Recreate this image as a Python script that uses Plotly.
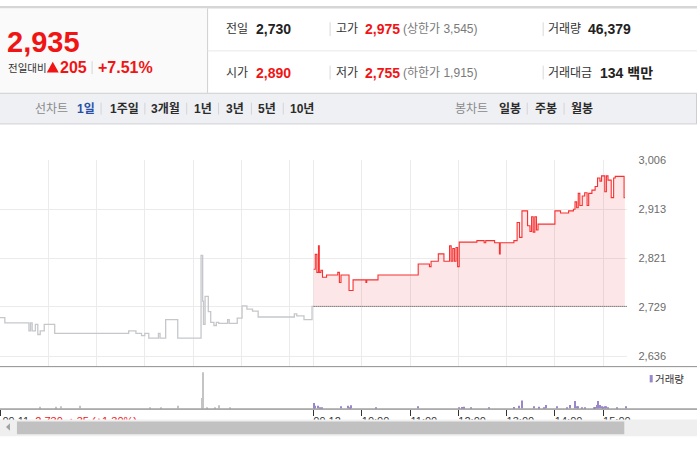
import plotly.graph_objects as go

# ---------------- data ----------------
prev_close = 2730
current_price = 2935
change_abs = 205
change_pct = 7.51
open_price = 2890
high_price = 2975
low_price = 2755
upper_limit = 3545
lower_limit = 1915
volume_total = 46379
value_total = 134  # 백만

prev_times = ["09:00", "09:06", "09:36", "09:38", "09:40", "09:44", "09:47", "09:50", "09:55", "10:08",
              "11:40", "11:49", "11:56", "12:00", "12:05", "12:17", "12:19", "12:26", "12:41", "13:10",
              "13:12", "13:13", "13:15", "13:19", "13:22", "13:26", "13:29", "13:32", "13:43", "13:45",
              "13:55", "14:01", "14:07", "14:14", "14:21", "15:06", "15:09", "15:18", "15:28", "15:30"]
prev_prices = [2709, 2699, 2684, 2699, 2684, 2696, 2677, 2684, 2696, 2679,
               2684, 2679, 2675, 2679, 2670, 2679, 2670, 2705, 2670, 2826,
               2740, 2696, 2749, 2720, 2700, 2694, 2700, 2698, 2705, 2698,
               2708, 2731, 2725, 2721, 2710, 2716, 2712, 2705, 2730, 2730]

today_times = ["09:00", "09:02", "09:04", "09:06", "09:07", "09:09", "09:11", "09:16", "09:30", "09:32",
               "09:34", "09:44", "09:49", "10:05", "10:06", "10:20", "11:10", "11:24", "11:26", "11:35",
               "11:42", "11:49", "11:51", "11:53", "11:55", "11:57", "11:59", "12:01", "12:23", "12:32",
               "12:34", "12:45", "12:51", "12:52", "13:09", "13:13", "13:16", "13:19", "13:26", "13:29",
               "13:31", "13:33", "13:35", "13:37", "13:39", "14:00", "14:07", "14:17", "14:23", "14:25",
               "14:27", "14:29", "14:31", "14:34", "14:37", "14:40", "14:42", "14:46", "14:50", "14:53",
               "14:56", "14:58", "15:02", "15:04", "15:06", "15:10", "15:13", "15:15", "15:26", "15:27"]
today_prices = [2800, 2828, 2794, 2844, 2794, 2798, 2785, 2789, 2794, 2775,
                2789, 2760, 2780, 2775, 2780, 2789, 2810, 2805, 2815, 2829,
                2815, 2844, 2815, 2839, 2815, 2841, 2805, 2851, 2854, 2850,
                2854, 2850, 2829, 2850, 2854, 2888, 2860, 2910, 2882, 2871,
                2899, 2870, 2899, 2874, 2885, 2910, 2906, 2910, 2913, 2927,
                2916, 2943, 2920, 2938, 2944, 2920, 2943, 2949, 2956, 2972,
                2966, 2976, 2946, 2976, 2968, 2935, 2972, 2975, 2935, 2935]

prev_vol_times = ["09:50", "10:10", "10:16", "10:40", "12:06", "12:20", "12:41", "13:11", "13:12",
                  "13:17", "13:27", "13:32", "13:46"]
prev_vol = [1400, 1400, 1800, 2200, 1000, 1000, 2200, 8600, 29400, 1000, 1000, 2600, 1000]

today_vol_times = ["09:00", "09:01", "09:02", "09:05", "09:08", "09:11", "09:34", "09:43", "09:45", "09:47",
                   "10:17", "11:10", "12:01", "12:04", "12:07", "12:16", "12:38", "13:09", "13:15", "13:19",
                   "13:34", "13:40", "13:46", "13:49", "14:02", "14:15", "14:19", "14:25", "14:27", "14:29",
                   "14:34", "14:38", "14:48", "14:50", "14:52", "14:54", "14:56", "14:58", "15:00", "15:02",
                   "15:04", "15:06", "15:17", "15:28"]
today_vol = [4000, 4600, 2200, 2200, 1000, 1000, 1800, 2200, 1000, 2600,
             1000, 1800, 1000, 1200, 1400, 1000, 1000, 1200, 2200, 6600,
             1800, 1400, 1000, 2800, 1800, 1000, 2800, 6200, 1800, 1800,
             1000, 1000, 1000, 1200, 2800, 6200, 2800, 1800, 1400, 1800,
             1800, 1000, 1000, 1800]

y_ticks = [2636, 2729, 2821, 2913, 3006]
hour_labels = ["10:00", "11:00", "12:00", "13:00", "14:00", "15:00"]
prev_day_label = "09.11"
today_label = "09.12"
prev_day_info = "2,730 ▲35 (+1.30%)"

# ---------------- helpers ----------------
W, H = 700, 450
SESSION = 390
X_RANGE = [0, 2 * SESSION]
PLOT_R = 630
PX_PER_MIN = PLOT_R / (2 * SESSION)
FONT = "Liberation Sans, Arial, Noto Sans CJK KR, sans-serif"
RED = "#f01414"


def to_min(t):
    h, m = t.split(":")
    return (int(h) - 9) * 60 + int(m)


prev_x = [to_min(t) for t in prev_times]
today_x = [SESSION + to_min(t) for t in today_times]
prev_vx = [to_min(t) for t in prev_vol_times]
today_vx = [SESSION + to_min(t) for t in today_vol_times]

shapes = []
annotations = []


def rect(x0, y0, x1, y1, fill, layer="below"):
    shapes.append(dict(type="rect", xref="paper", yref="paper", x0=x0 / W, x1=x1 / W,
                       y0=1 - y1 / H, y1=1 - y0 / H, fillcolor=fill, line=dict(width=0), layer=layer))


def seg(x0, y0, x1, y1, color, width=1, layer="below"):
    shapes.append(dict(type="line", xref="paper", yref="paper", x0=x0 / W, x1=x1 / W,
                       y0=1 - y0 / H, y1=1 - y1 / H, line=dict(color=color, width=width), layer=layer))


def poly(points, fill, layer="below"):
    path = "M " + " L ".join(f"{x / W},{1 - y / H}" for x, y in points) + " Z"
    shapes.append(dict(type="path", xref="paper", yref="paper", path=path, fillcolor=fill,
                       line=dict(width=0), layer=layer))


def ann(x, y, text, size, color, bold=False, xanchor="left"):
    if bold:
        text = f"<b>{text}</b>"
    annotations.append(dict(xref="paper", yref="paper", x=x / W, y=1 - y / H, text=text,
                            showarrow=False, xanchor=xanchor, yanchor="middle",
                            font=dict(size=size, color=color, family=FONT)))


# ---------------- traces ----------------
fig = go.Figure()

fig.add_trace(go.Scatter(x=prev_x, y=prev_prices, mode="lines",
                         line=dict(color="#c6c7cb", width=1.3, shape="hv"),
                         xaxis="x", yaxis="y", hoverinfo="skip"))
fig.add_trace(go.Scatter(x=today_x, y=[prev_close] * len(today_x), mode="lines",
                         line=dict(color="rgba(0,0,0,0)", width=0, shape="hv"),
                         xaxis="x", yaxis="y", hoverinfo="skip"))
fig.add_trace(go.Scatter(x=today_x, y=today_prices, mode="lines",
                         line=dict(color="rgba(0,0,0,0)", width=0, shape="hv"),
                         fill="tonexty", fillcolor="rgba(240,60,70,0.13)",
                         xaxis="x", yaxis="y", hoverinfo="skip"))
fig.add_trace(go.Scatter(x=[SESSION, 2 * SESSION], y=[prev_close, prev_close], mode="lines",
                         line=dict(color="#444444", width=1, dash="1px,1px"),
                         xaxis="x", yaxis="y", hoverinfo="skip"))
fig.add_trace(go.Scatter(x=today_x, y=today_prices, mode="lines",
                         line=dict(color="#f83030", width=1.1, shape="hv"),
                         xaxis="x", yaxis="y", hoverinfo="skip"))

fig.add_trace(go.Bar(x=prev_vx, y=prev_vol, width=1.3, marker=dict(color="#c4c4c4", line=dict(width=0)),
                     xaxis="x2", yaxis="y2", hoverinfo="skip"))
fig.add_trace(go.Bar(x=today_vx, y=today_vol, width=1.3, marker=dict(color="#9a86c8", line=dict(width=0)),
                     xaxis="x2", yaxis="y2", hoverinfo="skip"))
fig.add_trace(go.Scatter(x=[0], y=[0], mode="markers", marker=dict(opacity=0),
                         xaxis="x3", yaxis="y2", hoverinfo="skip"))

# ---------------- axes ----------------
grid_x = [h * 60 for h in range(0, 7)] + [SESSION + h * 60 for h in range(0, 7)]
vol_ticks = [0, SESSION] + [SESSION + h * 60 for h in range(1, 7)]

# label centres (labels are left-aligned at their tick in the reference)
lab_w_time = 27.5
lab_w_left = 140
lab_w_day = 27
label_vals = [lab_w_left / 2 / PX_PER_MIN, SESSION + lab_w_day / 2 / PX_PER_MIN] + \
             [SESSION + h * 60 + lab_w_time / 2 / PX_PER_MIN for h in range(1, 7)]
label_text = [f"{prev_day_label}  <span style='color:#f01414'>{prev_day_info}</span>", today_label] + hour_labels

y_top_px, y_bot_px, y_dom_bot_px = 156, 355, 365
per_px = (y_ticks[-1] - y_ticks[0]) / (y_bot_px - y_top_px)
y_range = [y_ticks[0] - (y_dom_bot_px - y_bot_px) * per_px, y_ticks[-1]]
vol_range = [0, 34400]

fig.update_layout(
    width=W, height=H, margin=dict(l=0, r=0, t=0, b=0),
    paper_bgcolor="white", plot_bgcolor="white", showlegend=False,
    barmode="overlay", hovermode=False,
    font=dict(family=FONT),
    xaxis=dict(domain=[0, PLOT_R / W], range=X_RANGE, anchor="y", tickvals=grid_x,
               showticklabels=False, ticks="", showgrid=True, gridcolor="#ebebeb", gridwidth=1,
               zeroline=False, showline=False, fixedrange=True),
    yaxis=dict(domain=[1 - y_dom_bot_px / H, 1 - y_top_px / H], range=y_range, anchor="x", side="right",
               tickvals=y_ticks, ticktext=[f"{v:,}" for v in y_ticks], ticks="outside", ticklen=8,
               tickcolor="rgba(0,0,0,0)", tickfont=dict(size=11, color="#6b6b6b", family=FONT),
               showgrid=True, gridcolor="#ebebeb", gridwidth=1, zeroline=False, showline=False,
               fixedrange=True),
    xaxis2=dict(domain=[0, PLOT_R / W], range=X_RANGE, anchor="y2", tickvals=vol_ticks,
                showticklabels=False, ticks="outside", ticklen=6, tickwidth=1, tickcolor="#333333",
                showgrid=False, zeroline=False, showline=False, fixedrange=True),
    yaxis2=dict(domain=[1 - 408 / H, 1 - 365 / H], range=vol_range, anchor="x2", visible=False,
                fixedrange=True),
    xaxis3=dict(overlaying="x2", anchor="y2", range=X_RANGE, tickvals=label_vals, ticktext=label_text,
                ticks="outside", ticklen=2, tickcolor="rgba(0,0,0,0)", ticklabeloverflow="allow",
                tickangle=0, tickfont=dict(size=11, color="#333333", family=FONT),
                showgrid=False, zeroline=False, showline=False, fixedrange=True),
)

# ---------------- header ----------------
rect(0, 0, W, 2.5, "#d6d6d6")
rect(0, 2.5, 208, 88, "#fafafa")
seg(208.5, 2.5, 208.5, 88, "#cfcfcf")
seg(208.5, 45.5, W, 45.5, "#e8e8e8")
seg(0, 88.5, W, 88.5, "#c4c4c4")

ann(5, 36, f"{current_price:,}", 29, RED, bold=True)
ann(6, 62.5, "전일대비", 10.5, "#333333")
poly([(47, 67.5), (53, 56.5), (59, 67.5)], RED)
ann(58.5, 62, f"{change_abs}", 16, RED, bold=True)
seg(92.5, 56, 92.5, 69, "#d5d5d5")
ann(96, 62, f"+{change_pct:.2f}%", 16, RED, bold=True)

for ry, items in [(23.5, [("전일", f"{prev_close:,}", "#222222", None),
                          ("고가", f"{high_price:,}", RED, f"(상한가 {upper_limit:,})"),
                          ("거래량", f"{volume_total:,}", "#222222", None)]),
                  (67.5, [("시가", f"{open_price:,}", RED, None),
                          ("저가", f"{low_price:,}", RED, f"(하한가 {lower_limit:,})"),
                          ("거래대금", f"{value_total} 백만", "#222222", None)])]:
    lx = [225, 335, 548]
    vx = [255, 365, 589 if ry < 40 else 601]
    for (lab, val, col, extra), x0, x1 in zip(items, lx, vx):
        ann(x0, ry, lab, 12, "#333333")
        ann(x1, ry, val, 14, col, bold=True)
        if extra:
            ann(403, ry, extra, 12, "#7a7a7a")
    seg(331.5, ry - 7, 331.5, ry + 7, "#d8d8d8")
    seg(545.5, ry - 7, 545.5, ry + 7, "#d8d8d8")

# ---------------- nav bar ----------------
rect(0, 89, W, 119, "#eff0f4")
seg(0, 119.5, W, 119.5, "#cdcdd2")
seg(699.5, 89, 699.5, 119.5, "#cdcdd2")
NAV_Y = 104
ann(33, NAV_Y, "선차트", 12, "#8a8a8a")
ann(75, NAV_Y, "1일", 12, "#2a4fa6", bold=True)
for txt, x in [("1주일", 108), ("3개월", 150), ("1년", 193), ("3년", 225), ("5년", 257), ("10년", 289)]:
    ann(x, NAV_Y, txt, 12, "#2b2b2b", bold=True)
for x in [101.5, 145.5, 187.5, 219.5, 252.5, 284.5]:
    seg(x, NAV_Y - 6, x, NAV_Y + 6, "#d3d3d8")
ann(455, NAV_Y, "봉차트", 12, "#8a8a8a")
for txt, x in [("일봉", 499), ("주봉", 535), ("월봉", 571)]:
    ann(x, NAV_Y, txt, 12, "#2b2b2b", bold=True)
for x in [529.5, 566.5]:
    seg(x, NAV_Y - 6, x, NAV_Y + 6, "#d3d3d8")

# ---------------- volume panel frame & legend ----------------
seg(0, 365.5, W, 365.5, "#8e8e8e", layer="above")
seg(0, 408.5, W, 408.5, "#666666", layer="above")
rect(652.5, 374, 655.5, 381.5, "#9a86c8")
ann(656, 378, "거래량", 10.5, "#333333")

# ---------------- scrollbar (covers lower half of time labels) ----------------
rect(0, 419, W, 436, "#efefef", layer="above")
rect(17, 421, 627, 434, "#c1c1c1", layer="above")
poly([(10, 423), (10, 430.5), (6, 426.75)], "#a0a0a0", layer="above")

fig.update_layout(shapes=shapes, annotations=annotations)

pin_to_corner = (
    "document.body.style.margin='0';document.body.style.overflow='hidden';"
    "var d=document.getElementById('{plot_id}');"
    "d.style.position='absolute';d.style.left='0px';d.style.top='0px';"
)
fig.write_html("out.html", config={"displayModeBar": False}, post_script=pin_to_corner)
